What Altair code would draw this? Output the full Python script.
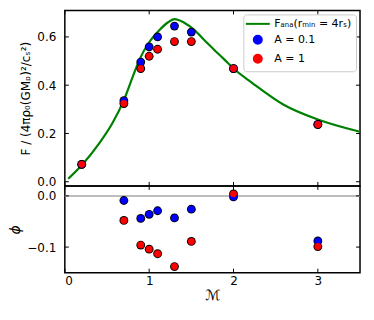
import altair as alt
import pandas as pd

# ---- data ----
M_sim = [0.2, 0.7, 0.9, 1.0, 1.1, 1.3, 1.5, 2.0, 3.0]
F_A01 = [0.072, 0.336, 0.496, 0.559, 0.600, 0.645, 0.620, 0.469, 0.238]
F_A1 = [0.072, 0.324, 0.469, 0.520, 0.549, 0.581, 0.581, 0.469, 0.237]

M_phi = [0.7, 0.9, 1.0, 1.1, 1.3, 1.5, 2.0, 3.0]
phi_A01 = [-0.009, -0.044, -0.036, -0.029, -0.043, -0.026, -0.002, -0.088]
phi_A1 = [-0.048, -0.096, -0.104, -0.113, -0.138, -0.089, 0.004, -0.099]

M_ana = [0.04, 0.2, 0.42, 0.56, 0.70, 0.80, 0.89, 1.0, 1.12, 1.22, 1.30, 1.42,
         1.53, 1.65, 1.77, 1.89, 2.0, 2.22, 2.6, 3.0, 3.5]
F_ana = [0.012, 0.068, 0.165, 0.24, 0.338, 0.43, 0.51, 0.578, 0.628, 0.66, 0.674,
         0.658, 0.631, 0.588, 0.547, 0.507, 0.469, 0.41, 0.318, 0.258, 0.207]

LBL_ANA = "Fₐₙₐ(rₘᵢₙ = 4rₛ)"
LBL_A01 = "A = 0.1"
LBL_A1 = "A = 1"
series_domain = [LBL_ANA, LBL_A01, LBL_A1]
series_colors = ["#008000", "#0000ff", "#ff0000"]
series_shapes = ["M-3,0H3", "circle", "circle"]

x_ticks = [0, 1, 2, 3]
yF_ticks = [0.0, 0.2, 0.4, 0.6]
yphi_ticks = [0.0, -0.1]

W, H1, H2 = 296, 176, 87
TL = 4  # inward tick length

df_ana = pd.DataFrame({"M": M_ana, "F": F_ana, "series": LBL_ANA})
df_sim = pd.concat([
    pd.DataFrame({"M": M_sim, "F": F_A01, "series": LBL_A01}),
    pd.DataFrame({"M": M_sim, "F": F_A1, "series": LBL_A1}),
], ignore_index=True)
df_phi = pd.concat([
    pd.DataFrame({"M": M_phi, "phi": phi_A01, "series": LBL_A01}),
    pd.DataFrame({"M": M_phi, "phi": phi_A1, "series": LBL_A1}),
], ignore_index=True)

xscale = alt.Scale(domain=[0, 3.5], nice=False, zero=False)
yFscale = alt.Scale(domain=[-0.0174, 0.71], nice=False, zero=False)
yPscale = alt.Scale(domain=[-0.150, 0.0195], nice=False, zero=False)

fill_scale = alt.Scale(domain=series_domain, range=series_colors)
shape_scale = alt.Scale(domain=series_domain, range=series_shapes)

# axes (the same object is given to every layer of a panel so that they merge)
ax_top_y = alt.Axis(title="F / (4πρ₀(GMₚ)²/cₛ²)", values=yF_ticks, format=".1f",
                    ticks=False, domain=False, grid=False, labelPadding=9, titlePadding=4)
ax_bot_x = alt.Axis(title="ℳ", values=x_ticks, format="d", ticks=False, domain=False,
                    grid=False, labelPadding=3, titlePadding=2, titleFontSize=14)
ax_bot_y = alt.Axis(title="ϕ", values=yphi_ticks, format=".1f", ticks=False, domain=False,
                    grid=False, labelPadding=9, titlePadding=4, titleFontSize=14,
                    titleFontStyle="italic")

legend = alt.Legend(
    title=None, orient="top-right", offset=4, padding=4,
    fillColor="white", strokeColor="#cccccc", cornerRadius=3,
    labelFontSize=11, labelFont="DejaVu Sans", labelColor="black",
    symbolSize=64, symbolStrokeWidth=2, symbolOffset=5, labelOffset=11,
    rowPadding=2,
)


def inward_ticks(xvals, yvals, yscale, h, xaxis, yaxis):
    dx = pd.DataFrame({"v": xvals})
    dy = pd.DataFrame({"v": yvals})
    base_x = alt.Chart(dx).mark_rule(color="black", strokeWidth=1)
    base_y = alt.Chart(dy).mark_rule(color="black", strokeWidth=1)
    return [
        base_x.encode(x=alt.X("v:Q", scale=xscale, axis=xaxis), y=alt.value(h - TL), y2=alt.value(h)),
        base_x.encode(x=alt.X("v:Q", scale=xscale, axis=xaxis), y=alt.value(0), y2=alt.value(TL)),
        base_y.encode(y=alt.Y("v:Q", scale=yscale, axis=yaxis), x=alt.value(0), x2=alt.value(TL)),
        base_y.encode(y=alt.Y("v:Q", scale=yscale, axis=yaxis), x=alt.value(W - TL), x2=alt.value(W)),
    ]


# ---- top panel ----
line = alt.Chart(df_ana).mark_line(strokeWidth=2.2, interpolate="monotone").encode(
    x=alt.X("M:Q", scale=xscale, axis=None),
    y=alt.Y("F:Q", scale=yFscale, axis=ax_top_y),
    stroke=alt.Stroke("series:N", scale=fill_scale, legend=legend),
)
pts_bg = alt.Chart(df_sim).mark_point(filled=True, size=78, opacity=1, color="black").encode(
    x=alt.X("M:Q", scale=xscale, axis=None), y=alt.Y("F:Q", scale=yFscale, axis=ax_top_y),
)
pts = alt.Chart(df_sim).mark_point(filled=True, size=48, opacity=1, strokeWidth=0).encode(
    x=alt.X("M:Q", scale=xscale, axis=None), y=alt.Y("F:Q", scale=yFscale, axis=ax_top_y),
    fill=alt.Fill("series:N", scale=fill_scale, legend=legend),
    shape=alt.Shape("series:N", scale=shape_scale, legend=legend),
)
top = alt.layer(line, pts_bg, pts,
                *inward_ticks(x_ticks, yF_ticks, yFscale, H1, None, ax_top_y)).properties(
    width=W, height=H1)

# ---- bottom panel ----
zero = alt.Chart(pd.DataFrame({"z": [0.0]})).mark_rule(color="#bdbdbd", strokeWidth=2).encode(
    y=alt.Y("z:Q", scale=yPscale, axis=ax_bot_y))
pb_bg = alt.Chart(df_phi).mark_point(filled=True, size=78, opacity=1, color="black").encode(
    x=alt.X("M:Q", scale=xscale, axis=ax_bot_x), y=alt.Y("phi:Q", scale=yPscale, axis=ax_bot_y))
pb = alt.Chart(df_phi).mark_point(filled=True, size=48, opacity=1, strokeWidth=0).encode(
    x=alt.X("M:Q", scale=xscale, axis=ax_bot_x),
    y=alt.Y("phi:Q", scale=yPscale, axis=ax_bot_y),
    fill=alt.Fill("series:N", scale=fill_scale, legend=None),
)
bottom = alt.layer(zero, pb_bg, pb,
                   *inward_ticks(x_ticks, yphi_ticks, yPscale, H2, ax_bot_x, ax_bot_y)).properties(
    width=W, height=H2)

chart = alt.vconcat(top, bottom, spacing=0, bounds="flush").resolve_scale(
    fill="independent", stroke="independent", shape="independent"
).resolve_legend(fill="independent", stroke="independent", shape="independent").properties(
    padding={"left": 0, "top": 0, "right": 0, "bottom": 0}
).configure_view(stroke="black", strokeWidth=1.5).configure_axis(
    labelFont="DejaVu Sans", titleFont="DejaVu Sans", labelFontSize=12, titleFontSize=12,
    labelColor="black", titleColor="black", titleFontWeight="normal"
)

chart.save("out.html", embed_options={"renderer": "svg", "actions": False})
